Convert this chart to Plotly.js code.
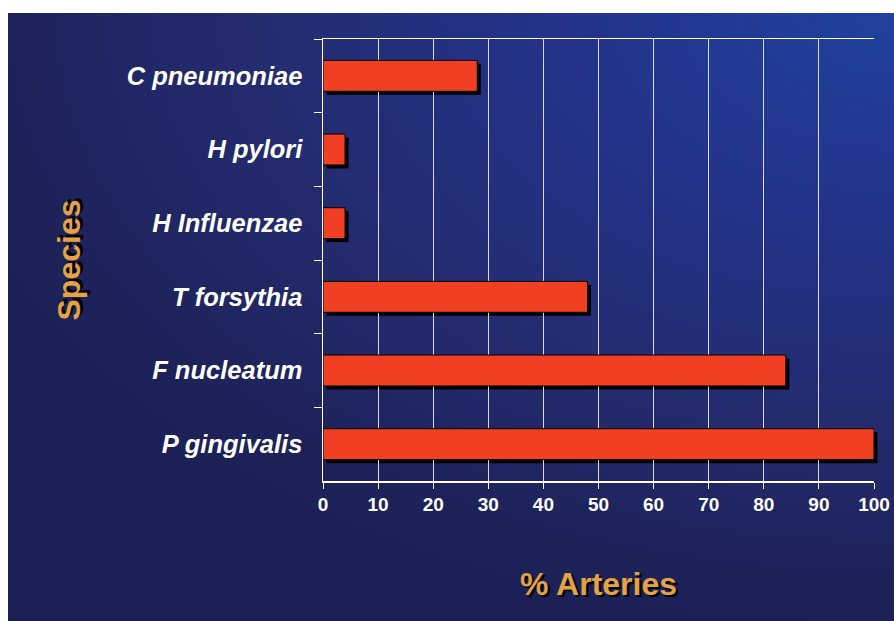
<!DOCTYPE html>
<html>
<head>
<meta charset="utf-8">
<script src="https://cdn.plot.ly/plotly-3.0.1.min.js"></script>
<style>
  html, body { margin: 0; padding: 0; background: #ffffff; width: 894px; height: 621px; overflow: hidden; }
  #bg { position: absolute; left: 8px; top: 13px; width: 886px; height: 608px;
        background: radial-gradient(ellipse 120% 110% at 100% 0%, #1f429e 0%, #24338a 30%, #242c70 60%, #1d2259 85%, #1b1f55 100%); }
  #chart { position: absolute; left: 0; top: 0; width: 894px; height: 621px; }
</style>
</head>
<body>
<div id="bg"></div>
<div id="chart"></div>
<script>
// Data (top to bottom order as shown)
var species = ["C pneumoniae", "H pylori", "H Influenzae", "T forsythia", "F nucleatum", "P gingivalis"];
var pctArteries = [28, 4, 4, 48, 84, 100];
var xTickVals = [0, 10, 20, 30, 40, 50, 60, 70, 80, 90, 100];

// Layout / style constants
var plotLeft = 323, plotRight = 874, fullW = 894;
var mainFrac = (plotRight - plotLeft) / (fullW - plotLeft);   // main x domain end
var xMax = 100;
var pxPerUnit = (plotRight - plotLeft) / xMax;
var shadowPx = 3.5;
var dxUnits = shadowPx / pxPerUnit;
var dyUnits = shadowPx / (442 / species.length);
var barWidth = 0.42;

// Shadow trace on an invisible subplot shifted a few pixels right/down
var shadow = {
  type: "bar", orientation: "h",
  y: species, x: pctArteries,
  xaxis: "x", yaxis: "y",
  width: barWidth,
  marker: { color: "#000000", line: { width: 0 } },
  hoverinfo: "skip", showlegend: false
};
// Main bars on the visible axes
var bars = {
  type: "bar", orientation: "h",
  y: species, x: pctArteries,
  xaxis: "x2", yaxis: "y2",
  width: barWidth,
  marker: { color: "#f03f23", line: { color: "#000000", width: 1 } },
  showlegend: false
};

var fontFam = "Liberation Sans, Arial, sans-serif";
var layout = {
  width: 894, height: 621,
  margin: { l: plotLeft, r: 0, t: 39, b: 140, pad: 0 },
  paper_bgcolor: "rgba(0,0,0,0)",
  plot_bgcolor: "rgba(0,0,0,0)",
  barmode: "overlay",
  showlegend: false,
  xaxis: {
    domain: [0, 1], anchor: "y",
    range: [-dxUnits, -dxUnits + xMax / mainFrac],
    visible: false, showgrid: false, zeroline: false, fixedrange: true
  },
  yaxis: {
    domain: [0, 1], anchor: "x",
    type: "category", categoryorder: "array", categoryarray: species,
    range: [species.length - 0.5 - dyUnits, -0.5 - dyUnits],
    visible: false, showgrid: false, zeroline: false, fixedrange: true
  },
  xaxis2: {
    domain: [0, mainFrac], anchor: "y2",
    range: [0, xMax],
    tickmode: "array", tickvals: xTickVals, ticktext: xTickVals.map(String),
    ticks: "outside", ticklen: 6, tickwidth: 1, tickcolor: "#ffffff",
    showgrid: true, gridcolor: "#d6d9ee", gridwidth: 1,
    zeroline: false,
    showline: true, linecolor: "#ffffff", linewidth: 1.5, mirror: true,
    tickfont: { family: fontFam, size: 19, color: "#ffffff", weight: "bold" },
    title: {
      text: "% Arteries", standoff: 58,
      font: { family: fontFam, size: 32, color: "#e2a245", weight: "bold", shadow: "2.5px 2.5px 0px #000000" }
    },
    fixedrange: true
  },
  yaxis2: {
    domain: [0, 1], anchor: "x2",
    type: "category",
    categoryorder: "array", categoryarray: species,
    range: [species.length - 0.5, -0.5],
    tickson: "boundaries",
    ticks: "outside", ticklen: 8, tickwidth: 1, tickcolor: "#ffffff",
    showgrid: false, zeroline: false,
    showline: true, linecolor: "#ffffff", linewidth: 1.5,
    ticklabelstandoff: 14,
    tickfont: { family: fontFam, size: 25.5, color: "#ffffff", weight: "bold", style: "italic" },
    title: {
      text: "Species", standoff: 36,
      font: { family: fontFam, size: 32, color: "#e2a245", weight: "bold", shadow: "2.5px 2.5px 0px #000000" }
    },
    fixedrange: true
  }
};

Plotly.newPlot("chart", [shadow, bars], layout, { displayModeBar: false, staticPlot: true });
</script>
</body>
</html>
